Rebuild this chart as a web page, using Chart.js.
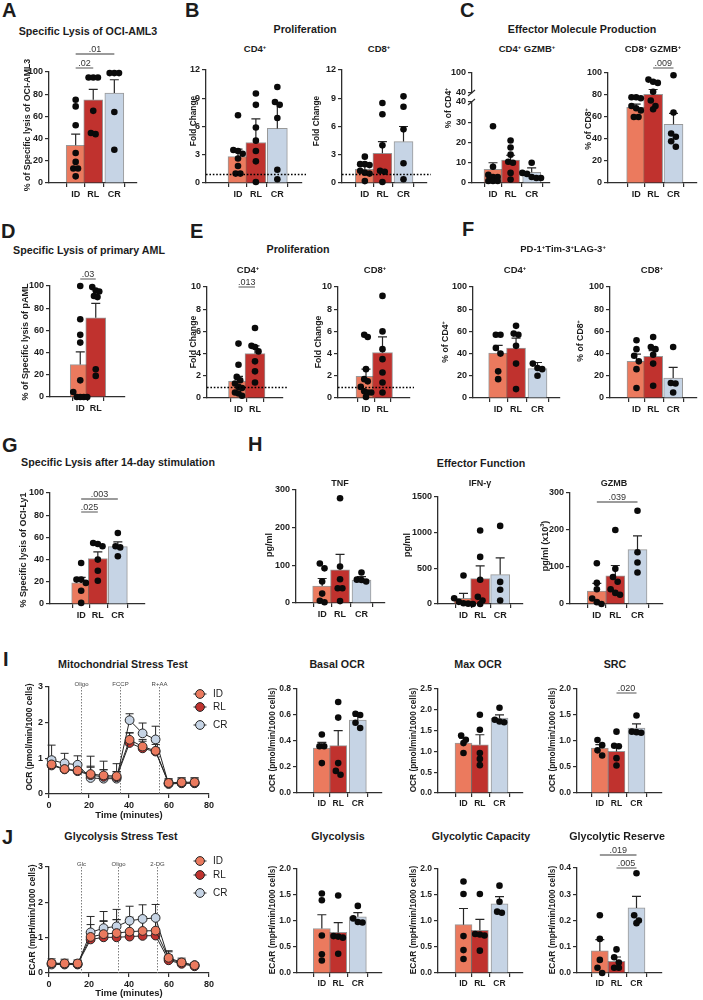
<!DOCTYPE html>
<html>
<head>
<meta charset="utf-8">
<title>T-cell function figure</title>
<script src="https://cdn.jsdelivr.net/npm/chart.js@4.4.1/dist/chart.umd.min.js"></script>
<style>
  html, body { margin: 0; padding: 0; background: #fff; }
  #page { position: relative; width: 703px; height: 1000px; overflow: hidden; background: #fff;
          font-family: 'Liberation Sans', Arial, Helvetica, sans-serif; color: #1c1c1c; }
  #page canvas { position: absolute; z-index: 1; }
  .txt { position: absolute; z-index: 2; white-space: nowrap; line-height: 1; font-weight: bold;
         transform: translate(-50%, -50%); }
  .letter { position: absolute; z-index: 2; line-height: 1; font-weight: bold; font-size: 20px; }
  sup { font-size: 0.62em; vertical-align: 0.55em; line-height: 0; }
</style>
</head>
<body>
<div id="page"></div>
<script>
// ====================== DATA ======================
const categories = ['ID', 'RL', 'CR'];

// A – specific lysis of OCI-AML3 (%)
const lysisAML3_mean = [34, 75, 81];
const lysisAML3_sem  = [10, 9.4, 12];
const lysisAML3_pts  = [[75, 69, 52, 27, 19, 13, 13, 6], [95, 95, 95, 65, 45, 44], [99, 99, 99, 64, 30]];
const lysisAML3_p    = ['.02', '.01'];

// B – proliferation (fold change)
const prolifCD4_mean = [2.8, 4.3, 5.8];
const prolifCD4_sem  = [0.8, 2.5, 2.6];
const prolifCD4_pts  = [[7.2, 3.5, 3.4, 3.1, 2.6, 1.8, 1.0, 1.0], [9.5, 8.3, 5.9, 4.5, 3.4, 2.3, 0.1], [10.2, 8.6, 8.3, 6.9, 1.4, 0.4]];
const prolifCD8_mean = [1.45, 3.15, 4.4];
const prolifCD8_sem  = [0.65, 1.25, 1.6];
const prolifCD8_pts  = [[2.8, 2.0, 2.0, 1.9, 1.3, 1.1, 1.0, 0.2], [8.5, 7.3, 4.0, 1.3, 1.2, 0.1], [9.2, 8.1, 5.7, 2.1, 0.4]];
const foldBaseline   = 1;

// C – effector molecule production (% GZMB+)
const gzmbCD4_mean  = [6.7, 11.3, 5.3];
const gzmbCD4_sem   = [3.3, 2.4, 2.2];
const gzmbCD4_pts   = [[28, 8, 4, 3, 3, 1, 1, 1], [21, 17.5, 14, 10.5, 10, 5, 1.7], [10, 5, 4.5, 3, 2.5, 2.5]];
const gzmbCD4_break = [40, 100];
const gzmbCD8_mean  = [68.7, 80.7, 53.3];
const gzmbCD8_sem   = [3, 4.3, 10];
const gzmbCD8_pts   = [[78, 78, 77, 70, 68, 66, 60, 60], [94, 92, 91, 83, 75, 70, 67], [98, 64, 45, 42, 38, 33]];
const gzmbCD8_p     = ['.009'];

// D – specific lysis of primary AML (%)
const lysisPAML_mean = [29.2, 71.4];
const lysisPAML_sem  = [11.5, 12.9];
const lysisPAML_pts  = [[100, 70, 56, 49, 15, 4.5, 0, 0, 0, 0], [99, 96, 95, 91, 90, 25, 19]];
const lysisPAML_p    = ['.03'];

// E – proliferation (fold change), ID vs RL
const prolif2CD4_mean = [1.5, 4.0];
const prolif2CD4_sem  = [0.45, 0.7];
const prolif2CD4_pts  = [[4.9, 3.0, 1.9, 1.6, 1.3, 1.0, 0.9, 0.5, 0.4, 0.2], [6.3, 4.7, 4.6, 4.2, 3.3, 2.4, 1.4]];
const prolif2CD4_p    = ['.013'];
const prolif2CD8_mean = [1.95, 4.1];
const prolif2CD8_sem  = [0.65, 1.4];
const prolif2CD8_pts  = [[5.7, 5.5, 2.6, 1.7, 1.5, 1.0, 0.6, 0.5, 0.5, 0.1], [9.2, 6.0, 4.4, 3.5, 2.3, 1.4, 0.5]];

// F – PD-1+Tim-3+LAG-3+ (%)
const ptlCD4_mean = [40.5, 45, 26.4];
const ptlCD4_sem  = [6.9, 9, 5.6];
const ptlCD4_pts  = [[57, 57, 45, 40, 24, 17], [65, 58, 57, 47, 31, 8], [31, 27, 26, 20]];
const ptlCD8_mean = [33, 37.5, 18];
const ptlCD8_sem  = [6.6, 5.1, 9.6];
const ptlCD8_pts  = [[52, 44, 38, 33, 26, 9], [55, 46, 44, 39, 31, 11], [46, 13.5, 13, 5]];

// G – specific lysis after 14-day stimulation (%)
const lysisLy1_mean = [19, 41, 51.7];
const lysisLy1_sem  = [4.9, 6, 4.3];
const lysisLy1_pts  = [[37, 22, 22, 19, 12, 1], [55, 54, 52, 40, 30, 21], [64, 52, 51, 43]];
const lysisLy1_p    = ['.025', '.003'];

// H – effector function (cytokines)
const tnf_mean = [45, 88, 61];
const tnf_sem  = [20, 41, 9];
const tnf_pts  = [[105, 92, 57, 25, 6, 2], [278, 97, 63, 39, 39, 5], [81, 62, 61, 57]];
const ifng_mean = [80, 356, 412];
const ifng_sem  = [70, 178, 234];
const ifng_pts  = [[400, 80, 30, 10, 5, 0], [1030, 660, 340, 100, 50, 0], [1095, 310, 200, 50]];
const gzmbSec_mean = [35, 76, 147];
const gzmbSec_sem  = [21, 28, 37];
const gzmbSec_pts  = [[110, 57, 40, 15, 5, 0], [200, 95, 73, 60, 40, 30, 25], [252, 140, 112, 85]];
const gzmbSec_p    = ['.039'];

// I – mitochondrial stress test
const ocrTime   = [1.3, 7.8, 14.3, 20.8, 27.3, 33.8, 40.3, 46.8, 53.3, 59.8, 66.3, 72.8];
const ocr_ID    = [0.83, 0.70, 0.66, 0.56, 0.52, 0.50, 1.52, 1.33, 1.21, 0.31, 0.33, 0.33];
const ocr_RL    = [0.80, 0.69, 0.64, 0.53, 0.48, 0.47, 1.43, 1.28, 1.19, 0.30, 0.31, 0.31];
const ocr_CR    = [0.95, 0.86, 0.82, 0.45, 0.43, 0.43, 2.07, 1.70, 1.53, 0.28, 0.30, 0.30];
const ocrErr_ID = [0.20, 0.15, 0.15, 0.50, 0.40, 0.35, 0.20, 0.20, 0.25, 0.10, 0.12, 0.12];
const ocrErr_RL = [0.10, 0.10, 0.10, 0.25, 0.20, 0.15, 0.28, 0.20, 0.20, 0.08, 0.10, 0.10];
const ocrErr_CR = [0.42, 0.28, 0.25, 0.30, 0.25, 0.20, 0.18, 0.29, 0.37, 0.15, 0.15, 0.15];
const ocrInjTimes  = [16, 35.5, 55];
const ocrInjLabels = ['Oligo', 'FCCP', 'R+AA'];
const basal_mean = [0.346, 0.364, 0.56];
const basal_sem  = [0.044, 0.116, 0.03];
const basal_pts  = [[0.45, 0.36, 0.36, 0.23], [0.70, 0.58, 0.23, 0.17, 0.14], [0.61, 0.60, 0.54, 0.50]];
const maxOcr_mean = [1.2, 1.16, 1.80];
const maxOcr_sem  = [0.12, 0.24, 0.08];
const maxOcr_pts  = [[1.38, 1.28, 1.2, 0.96], [1.88, 1.52, 0.96, 0.82, 0.67], [2.05, 1.76, 1.72, 1.70]];
const src_mean = [0.865, 0.80, 1.25];
const src_sem  = [0.065, 0.12, 0.08];
const src_pts  = [[1.02, 0.92, 0.82, 0.72], [1.18, 0.91, 0.90, 0.67, 0.53], [1.49, 1.18, 1.17, 1.16]];
const src_p    = ['.020'];

// J – glycolysis stress test
const ecarTime   = [1.3, 7.8, 14.3, 20.8, 27.3, 33.8, 40.3, 46.8, 53.3, 59.8, 66.3, 72.8];
const ecar_ID    = [0.28, 0.27, 0.27, 1.02, 1.10, 1.13, 1.17, 1.19, 1.20, 0.43, 0.30, 0.22];
const ecar_RL    = [0.27, 0.26, 0.25, 0.95, 1.01, 1.01, 1.03, 1.05, 1.06, 0.36, 0.26, 0.19];
const ecar_CR    = [0.24, 0.24, 0.24, 1.15, 1.27, 1.32, 1.48, 1.53, 1.56, 0.40, 0.28, 0.22];
const ecarErr_ID = [0.12, 0.12, 0.10, 0.35, 0.38, 0.38, 0.30, 0.30, 0.33, 0.20, 0.12, 0.06];
const ecarErr_RL = [0.05, 0.05, 0.05, 0.20, 0.45, 0.50, 0.55, 0.55, 0.55, 0.15, 0.10, 0.06];
const ecarErr_CR = [0.10, 0.10, 0.10, 0.45, 0.47, 0.48, 0.41, 0.40, 0.38, 0.20, 0.10, 0.07];
const ecarInjTimes  = [16, 34.5, 54];
const ecarInjLabels = ['Glc', 'Oligo', '2-DG'];
const glyco_mean = [0.855, 0.78, 1.08];
const glyco_sem  = [0.265, 0.19, 0.08];
const glyco_pts  = [[1.53, 1.40, 0.72, 0.36, 0.24], [1.49, 0.71, 0.70, 0.68, 0.37], [1.29, 1.05, 0.98, 0.97]];
const glycoCap_mean = [0.93, 0.82, 1.33];
const glycoCap_sem  = [0.31, 0.21, 0.14];
const glycoCap_pts  = [[1.76, 1.52, 0.71, 0.44, 0.27], [1.52, 0.75, 0.74, 0.72, 0.43], [1.68, 1.37, 1.18, 1.16]];
const glycoRes_mean = [0.084, 0.044, 0.248];
const glycoRes_sem  = [0.043, 0.017, 0.044];
const glycoRes_pts  = [[0.22, 0.13, 0.05, 0.02, 0.0], [0.09, 0.06, 0.04, 0.02, 0.02], [0.38, 0.22, 0.20, 0.19]];
const glycoRes_p    = ['.019', '.005'];

// ====================== STYLE / HELPERS ======================
const FONT = "'Liberation Sans', Arial, Helvetica, sans-serif";
const AXIS = '#2e2e2e';
const COLORS = ['#EB7A5E', '#C0322E', '#C6D4E5'];
const BAR_BORDER = 'rgba(70,70,70,0.55)';
const GX = [0, 1, 2.2];           // group slots on the x axis (GraphPad-style spacing)
const DOT_R = 3.3;
const page = document.getElementById('page');

Chart.defaults.font.family = FONT;
Chart.defaults.font.weight = 'bold';
Chart.defaults.color = '#1c1c1c';

function addText(html, x, y, size, o) {
  o = o || {};
  const d = document.createElement('div');
  d.className = 'txt';
  d.innerHTML = html;
  d.style.left = x + 'px'; d.style.top = y + 'px'; d.style.fontSize = size + 'px';
  if (o.rot) d.style.transform = 'translate(-50%,-50%) rotate(-90deg)';
  if (o.weight) d.style.fontWeight = o.weight;
  page.appendChild(d);
}
function addLetter(ch, x, y) {
  const d = document.createElement('div');
  d.className = 'letter';
  d.textContent = ch;
  d.style.left = x + 'px'; d.style.top = y + 'px';
  page.appendChild(d);
}
function makeCanvas(L, T, R, B, pad) {
  const c = document.createElement('canvas');
  const left = L - pad.l, top = T - pad.t;
  const w = Math.round(R - L + pad.l + pad.r), h = Math.round(B - T + pad.t + pad.b);
  c.width = w; c.height = h;
  c.style.left = left + 'px'; c.style.top = top + 'px';
  c.style.width = w + 'px'; c.style.height = h + 'px';
  page.appendChild(c);
  return {el: c, left, top};
}
// horizontal spreading of overlapping dots (like GraphPad scatter)
function swarm(vals, thr, step) {
  const sorted = vals.slice().sort((a, b) => b - a);
  const rows = [];
  for (const v of sorted) {
    const r = rows[rows.length - 1];
    if (r && Math.abs(r[0] - v) < thr) r.push(v); else rows.push([v]);
  }
  const out = [];
  rows.forEach(r => r.forEach((v, i) => out.push({v, dx: (i - (r.length - 1) / 2) * step})));
  return out;
}
function gridOpts() {
  return {display: true, drawOnChartArea: false, drawTicks: true, tickLength: 4, tickWidth: 1.2,
          tickColor: AXIS, color: AXIS, lineWidth: 1.2};
}
function borderOpts() { return {display: true, color: AXIS, width: 1.3}; }
function tickOpts(size, extra) {
  return Object.assign({font: {size, weight: 'bold', family: FONT}, color: '#1c1c1c', padding: 2,
                        autoSkip: false, maxRotation: 0, minRotation: 0}, extra || {});
}

function barPanel(s) {
  const n = s.mean.length;
  const gx = GX.slice(0, n);
  const cats = categories.slice(0, n);
  const unit = (s.c1 - s.c0) / (gx[n - 1] - gx[0]);
  const xmin = gx[0] - (s.c0 - s.L) / unit;
  const xmax = gx[n - 1] + (s.R - s.c1) / unit;
  const sig = s.sig || [];
  const pad = {l: 32, r: 8, b: 20,
               t: sig.length ? Math.max(10, s.T - Math.min(...sig.map(q => q.y)) + 16) : 10};
  const cv = makeCanvas(s.L, s.T, s.R, s.B, pad);
  const dec = s.dec || 0;
  const tsz = s.tickSize || 9;
  const fmt = v => Number(v).toFixed(dec);
  let thr;
  const scales = {
    x: {type: 'linear', min: xmin, max: xmax, grid: gridOpts(), border: borderOpts(),
        ticks: tickOpts(tsz, {callback: (v, i) => cats[i]}),
        afterBuildTicks: sc => { sc.ticks = gx.map(v => ({value: v})); },
        afterFit: sc => { sc.height = pad.b; }}
  };
  if (s.broken) {
    const lo = s.broken[0], hi = s.broken[1];
    const w = s.stackW;
    scales.y = {type: 'linear', position: 'left', stack: 'brk', stackWeight: w[0], min: 0, max: lo,
      grid: gridOpts(), border: borderOpts(), ticks: tickOpts(tsz, {stepSize: s.yStep, callback: fmt}),
      afterFit: sc => { sc.width = pad.l; }};
    scales.yGap = {type: 'linear', position: 'left', stack: 'brk', stackWeight: w[1], min: 0, max: 1,
      grid: {display: false}, border: {display: false}, ticks: {display: false},
      afterFit: sc => { sc.width = pad.l; }};
    scales.yTop = {type: 'linear', position: 'left', stack: 'brk', stackWeight: w[2], min: lo, max: hi,
      grid: gridOpts(), border: borderOpts(), ticks: tickOpts(tsz, {stepSize: hi - lo, callback: fmt}),
      afterFit: sc => { sc.width = pad.l; }};
    thr = lo * 5.8 / ((s.B - s.T) * w[0] / (w[0] + w[1] + w[2]));
  } else {
    scales.y = {type: 'linear', position: 'left', min: 0, max: s.yMax,
      grid: gridOpts(), border: borderOpts(), ticks: tickOpts(tsz, {stepSize: s.yStep, callback: fmt}),
      afterFit: sc => { sc.width = pad.l; }};
    thr = s.yMax * 5.8 / (s.B - s.T);
  }
  const step = 7 / unit;
  const pts = [];
  s.pts.forEach((arr, g) => swarm(arr, thr, step).forEach(p => pts.push({x: gx[g] + p.dx, y: p.v})));

  const plugin = {
    id: 'barExtras',
    afterDatasetDraw(chart, args) {
      if (args.meta.type !== 'bar') return;
      const ctx = chart.ctx, ys = chart.scales.y;
      ctx.save();
      ctx.strokeStyle = '#262626'; ctx.lineWidth = 1.2;
      args.meta.data.forEach((bar, i) => {
        const yTop = ys.getPixelForValue(s.mean[i] + s.sem[i]);
        ctx.beginPath();
        ctx.moveTo(bar.x, bar.y); ctx.lineTo(bar.x, yTop);
        ctx.moveTo(bar.x - 4.5, yTop); ctx.lineTo(bar.x + 4.5, yTop);
        ctx.stroke();
      });
      ctx.restore();
    },
    afterDatasetsDraw(chart) {
      const ctx = chart.ctx, xs = chart.scales.x, ys = chart.scales.y, ca = chart.chartArea;
      ctx.save();
      if (s.ref != null) {
        const y = Math.round(ys.getPixelForValue(s.ref)) + 0.5;
        ctx.setLineDash([1.6, 1.8]); ctx.strokeStyle = '#000'; ctx.lineWidth = 1.4;
        ctx.beginPath(); ctx.moveTo(ca.left, y); ctx.lineTo(ca.right + 4, y); ctx.stroke();
        ctx.setLineDash([]);
      }
      sig.forEach(q => {
        const y = q.y - cv.top;
        const xa = xs.getPixelForValue(gx[q.a]), xb = xs.getPixelForValue(gx[q.b]);
        ctx.strokeStyle = '#7a7a7a'; ctx.lineWidth = 1.3;
        ctx.beginPath(); ctx.moveTo(xa, y); ctx.lineTo(xb, y); ctx.stroke();
        ctx.fillStyle = '#333'; ctx.font = 'normal 9px ' + FONT;
        ctx.textAlign = 'center'; ctx.textBaseline = 'alphabetic';
        ctx.fillText(q.p, (xa + xb) / 2, y - 2.5);
      });
      if (s.broken) {
        const x = ca.left;
        [chart.scales.y.getPixelForValue(s.broken[0]), chart.scales.yTop.getPixelForValue(s.broken[0])].forEach(y => {
          ctx.strokeStyle = AXIS; ctx.lineWidth = 1.2;
          ctx.beginPath(); ctx.moveTo(x - 4, y + 3); ctx.lineTo(x + 3, y - 3); ctx.stroke();
        });
      }
      ctx.restore();
    }
  };

  new Chart(cv.el, {
    type: 'bar',
    data: {datasets: [
      {type: 'scatter', data: pts, pointRadius: DOT_R, pointBackgroundColor: '#0a0a0a', pointBorderWidth: 0,
       borderWidth: 0, clip: false, order: 1, yAxisID: 'y'},
      {type: 'bar', data: s.mean.map((m, i) => ({x: gx[i], y: m})), backgroundColor: COLORS.slice(0, n),
       borderColor: BAR_BORDER, borderWidth: 1, barThickness: s.barW || 19, order: 2, yAxisID: 'y'}
    ]},
    options: {
      responsive: false, animation: false, devicePixelRatio: 1, events: [],
      layout: {padding: {top: pad.t, right: pad.r, left: 0, bottom: 0}},
      plugins: {legend: {display: false}, tooltip: {enabled: false}},
      scales
    },
    plugins: [plugin]
  });
}

function linePanel(s) {
  const pad = {l: 30, t: 12, r: 36, b: s.padB};
  const cv = makeCanvas(s.L, s.T, s.R, s.B, pad);
  const datasets = s.series.map((vals, g) => ({
    type: 'line', label: categories[g],
    data: s.time.map((t, i) => ({x: t, y: vals[i]})),
    borderColor: '#262626', borderWidth: 1, tension: 0, fill: false, clip: false,
    pointRadius: 4.4, pointBackgroundColor: COLORS[g], pointBorderColor: '#262626', pointBorderWidth: 1
  }));
  const plugin = {
    id: 'lineExtras',
    beforeDatasetsDraw(chart) {
      const ctx = chart.ctx, xs = chart.scales.x, ys = chart.scales.y, ca = chart.chartArea;
      ctx.save();
      s.inj.forEach((t, k) => {
        const x = Math.round(xs.getPixelForValue(t)) + 0.5;
        ctx.setLineDash([1.5, 1.5]); ctx.strokeStyle = '#7d7d7d'; ctx.lineWidth = 1;
        ctx.beginPath(); ctx.moveTo(x, ca.top); ctx.lineTo(x, ca.bottom); ctx.stroke();
        ctx.setLineDash([]);
        ctx.fillStyle = '#444'; ctx.font = 'normal 6px ' + FONT;
        ctx.textAlign = 'center'; ctx.textBaseline = 'alphabetic';
        ctx.fillText(s.injLabels[k], x, ca.top - 1);
      });
      ctx.strokeStyle = '#262626'; ctx.lineWidth = 1;
      s.series.forEach((vals, g) => vals.forEach((v, i) => {
        const x = xs.getPixelForValue(s.time[i]);
        const y0 = ys.getPixelForValue(v), y1 = ys.getPixelForValue(v + s.err[g][i]);
        ctx.beginPath(); ctx.moveTo(x, y0); ctx.lineTo(x, y1);
        ctx.moveTo(x - 4, y1); ctx.lineTo(x + 4, y1); ctx.stroke();
      }));
      ctx.restore();
    },
    afterDraw(chart) {
      const ctx = chart.ctx;
      ctx.save();
      s.legendY.forEach((ly, g) => {
        const x = s.legendX - cv.left, y = ly - cv.top;
        ctx.strokeStyle = '#262626'; ctx.lineWidth = 1;
        ctx.beginPath(); ctx.moveTo(x - 6.5, y); ctx.lineTo(x + 6.5, y); ctx.stroke();
        ctx.beginPath(); ctx.arc(x, y, 4.4, 0, Math.PI * 2);
        ctx.fillStyle = COLORS[g]; ctx.fill(); ctx.stroke();
        ctx.fillStyle = '#1c1c1c'; ctx.font = 'normal 10px ' + FONT;
        ctx.textAlign = 'left'; ctx.textBaseline = 'middle';
        ctx.fillText(categories[g], x + 13, y + 0.5);
      });
      ctx.restore();
    }
  };
  new Chart(cv.el, {
    type: 'line',
    data: {datasets},
    options: {
      responsive: false, animation: false, devicePixelRatio: 1, events: [],
      layout: {padding: {top: pad.t, right: pad.r, left: 0, bottom: 0}},
      plugins: {legend: {display: false}, tooltip: {enabled: false}},
      scales: {
        x: {type: 'linear', min: 0, max: 80, grid: gridOpts(), border: borderOpts(),
            ticks: tickOpts(9, {stepSize: 20}),
            title: {display: true, text: 'Time (minutes)', color: '#1c1c1c', padding: 0,
                    font: {size: 9.5, weight: 'bold', family: FONT}},
            afterFit: sc => { sc.height = pad.b; }},
        y: {type: 'linear', min: 0, max: 3, grid: gridOpts(), border: borderOpts(),
            ticks: tickOpts(9, {stepSize: 1}),
            afterFit: sc => { sc.width = pad.l; }}
      }
    },
    plugins: [plugin]
  });
}

// ====================== PANELS ======================
// Row 1
barPanel({L: 49, T: 72, R: 137, B: 183, c0: 67, c1: 125, mean: lysisAML3_mean, sem: lysisAML3_sem, pts: lysisAML3_pts,
  yMax: 100, yStep: 20, sig: [{a: 0, b: 1, y: 68, p: lysisAML3_p[0]}, {a: 0, b: 2, y: 54, p: lysisAML3_p[1]}]});
barPanel({L: 206, T: 70, R: 302, B: 183, c0: 230, c1: 289, mean: prolifCD4_mean, sem: prolifCD4_sem, pts: prolifCD4_pts,
  yMax: 12, yStep: 3, ref: foldBaseline, barW: 20});
barPanel({L: 342, T: 70, R: 427, B: 183, c0: 355, c1: 413, mean: prolifCD8_mean, sem: prolifCD8_sem, pts: prolifCD8_pts,
  yMax: 12, yStep: 3, ref: foldBaseline});
barPanel({L: 472, T: 73, R: 550, B: 183, c0: 484, c1: 542, mean: gzmbCD4_mean, sem: gzmbCD4_sem, pts: gzmbCD4_pts,
  broken: gzmbCD4_break, stackW: [81, 9, 20], yStep: 10, barW: 18});
barPanel({L: 608, T: 73, R: 697, B: 183, c0: 628, c1: 684, mean: gzmbCD8_mean, sem: gzmbCD8_sem, pts: gzmbCD8_pts,
  yMax: 100, yStep: 20, sig: [{a: 1, b: 2, y: 68, p: gzmbCD8_p[0]}]});
// Row 2
barPanel({L: 50, T: 286, R: 125, B: 397, c0: 73, c1: 104, mean: lysisPAML_mean, sem: lysisPAML_sem, pts: lysisPAML_pts,
  yMax: 100, yStep: 20, barW: 20, sig: [{a: 0, b: 1, y: 279, p: lysisPAML_p[0]}]});
barPanel({L: 207, T: 287, R: 283, B: 398, c0: 232, c1: 265, mean: prolif2CD4_mean, sem: prolif2CD4_sem, pts: prolif2CD4_pts,
  yMax: 10, yStep: 2, ref: foldBaseline, barW: 20, sig: [{a: 0, b: 1, y: 287, p: prolif2CD4_p[0]}]});
barPanel({L: 338, T: 287, R: 410, B: 398, c0: 358, c1: 391, mean: prolif2CD8_mean, sem: prolif2CD8_sem, pts: prolif2CD8_pts,
  yMax: 10, yStep: 2, ref: foldBaseline, barW: 20});
barPanel({L: 473, T: 287, R: 560, B: 398, c0: 489, c1: 548, mean: ptlCD4_mean, sem: ptlCD4_sem, pts: ptlCD4_pts,
  yMax: 100, yStep: 20});
barPanel({L: 610, T: 287, R: 697, B: 398, c0: 628, c1: 683, mean: ptlCD8_mean, sem: ptlCD8_sem, pts: ptlCD8_pts,
  yMax: 100, yStep: 20});
// Row 3
barPanel({L: 50, T: 493, R: 145, B: 604, c0: 73, c1: 128, mean: lysisLy1_mean, sem: lysisLy1_sem, pts: lysisLy1_pts,
  yMax: 100, yStep: 20, sig: [{a: 0, b: 1, y: 512, p: lysisLy1_p[0]}, {a: 0, b: 2, y: 499, p: lysisLy1_p[1]}]});
barPanel({L: 296, T: 490, R: 385, B: 603, c0: 313, c1: 372, mean: tnf_mean, sem: tnf_sem, pts: tnf_pts,
  yMax: 300, yStep: 100});
barPanel({L: 438, T: 497, R: 523, B: 604, c0: 455, c1: 510, mean: ifng_mean, sem: ifng_sem, pts: ifng_pts,
  yMax: 1500, yStep: 500});
barPanel({L: 570, T: 493, R: 663, B: 604, c0: 587, c1: 648, mean: gzmbSec_mean, sem: gzmbSec_sem, pts: gzmbSec_pts,
  yMax: 300, yStep: 100, sig: [{a: 0, b: 2, y: 502, p: gzmbSec_p[0]}]});
// Row 4
linePanel({L: 49, T: 687, R: 209, B: 794, padB: 27, time: ocrTime, series: [ocr_ID, ocr_RL, ocr_CR],
  err: [ocrErr_ID, ocrErr_RL, ocrErr_CR], inj: ocrInjTimes, injLabels: ocrInjLabels,
  legendX: 200, legendY: [694, 707, 725]});
barPanel({L: 297, T: 689, R: 382, B: 793, c0: 313, c1: 367, mean: basal_mean, sem: basal_sem, pts: basal_pts,
  yMax: 0.8, yStep: 0.2, dec: 1, tickSize: 8.5, barW: 17});
barPanel({L: 438, T: 689, R: 523, B: 793, c0: 455, c1: 509, mean: maxOcr_mean, sem: maxOcr_sem, pts: maxOcr_pts,
  yMax: 2.5, yStep: 0.5, dec: 1, tickSize: 8.5, barW: 17});
barPanel({L: 577, T: 689, R: 662, B: 793, c0: 590, c1: 645, mean: src_mean, sem: src_sem, pts: src_pts,
  yMax: 2, yStep: 0.5, dec: 1, tickSize: 8.5, barW: 17, sig: [{a: 1, b: 2, y: 693, p: src_p[0]}]});
// Row 5
linePanel({L: 49, T: 867, R: 209, B: 973, padB: 26, time: ecarTime, series: [ecar_ID, ecar_RL, ecar_CR],
  err: [ecarErr_ID, ecarErr_RL, ecarErr_CR], inj: ecarInjTimes, injLabels: ecarInjLabels,
  legendX: 200, legendY: [861, 875, 893]});
barPanel({L: 297, T: 869, R: 382, B: 973, c0: 313, c1: 367, mean: glyco_mean, sem: glyco_sem, pts: glyco_pts,
  yMax: 2, yStep: 0.5, dec: 1, tickSize: 8.5, barW: 17});
barPanel({L: 438, T: 869, R: 523, B: 973, c0: 455, c1: 509, mean: glycoCap_mean, sem: glycoCap_sem, pts: glycoCap_pts,
  yMax: 2, yStep: 0.5, dec: 1, tickSize: 8.5, barW: 17});
barPanel({L: 577, T: 868, R: 662, B: 973, c0: 590, c1: 645, mean: glycoRes_mean, sem: glycoRes_sem, pts: glycoRes_pts,
  yMax: 0.4, yStep: 0.1, dec: 1, tickSize: 8.5, barW: 17,
  sig: [{a: 0, b: 2, y: 855, p: glycoRes_p[0]}, {a: 1, b: 2, y: 868, p: glycoRes_p[1]}]});

// ====================== TEXT ======================
[['A', 2, 0], ['B', 185, 0], ['C', 460, 0], ['D', 1, 221], ['E', 190, 221], ['F', 462, 219],
 ['G', 2, 435], ['H', 248, 434], ['I', 3, 649], ['J', 2, 827]].forEach(l => addLetter(l[0], l[1], l[2]));

const T1 = 10.7, T2 = 9.5;
addText('Specific Lysis of OCI-AML3', 88, 31, T1);
addText('Proliferation', 305, 29, T1);
addText('CD4<sup>+</sup>', 255, 49, T2);
addText('CD8<sup>+</sup>', 379, 49, T2);
addText('Effector Molecule Production', 582, 29, T1);
addText('CD4<sup>+</sup> GZMB<sup>+</sup>', 527, 49, T2);
addText('CD8<sup>+</sup> GZMB<sup>+</sup>', 653, 49, T2);
addText('Specific Lysis of primary AML', 89, 250, T1);
addText('Proliferation', 298, 249, T1);
addText('CD4<sup>+</sup>', 248, 270, T2);
addText('CD8<sup>+</sup>', 375, 270, T2);
addText('PD-1<sup>+</sup>Tim-3<sup>+</sup>LAG-3<sup>+</sup>', 563, 249, T2);
addText('CD4<sup>+</sup>', 515, 270, T2);
addText('CD8<sup>+</sup>', 652, 270, T2);
addText('Specific Lysis after 14-day stimulation', 118, 462, T1);
addText('Effector Function', 481, 463, T1);
addText('TNF', 340, 483, 9);
addText('IFN-γ', 480, 483, 9);
addText('GZMB', 614, 483, 9);
addText('Mitochondrial Stress Test', 123, 664, T1);
addText('Basal OCR', 337, 664, T1);
addText('Max OCR', 478, 664, T1);
addText('SRC', 615, 664, T1);
addText('Glycolysis Stress Test', 121, 836, T1);
addText('Glycolysis', 338, 836, T1);
addText('Glycolytic Capacity', 481, 836, T1);
addText('Glycolytic Reserve', 617, 836, T1);

// y-axis titles
const R = {rot: true};
addText('% of Specific lysis of OCI-AML3', 27, 125, 8.8, R);
addText('Fold Change', 193, 121, 8.3, R);
addText('Fold Change', 316, 121, 8.3, R);
addText('% of CD4<sup>+</sup>', 448, 108, 8.5, R);
addText('% of CD8<sup>+</sup>', 588, 129, 8.7, R);
addText('% of Specific lysis of pAML', 25, 342, 9, R);
addText('Fold Change', 193, 342, 8.7, R);
addText('Fold Change', 318, 342, 8.7, R);
addText('% of CD4<sup>+</sup>', 445, 342, 8.7, R);
addText('% of CD8<sup>+</sup>', 580, 341, 8.7, R);
addText('% Specific lysis of OCI-Ly1', 23, 550, 9, R);
addText('pg/ml', 269, 545, 9, R);
addText('pg/ml', 407, 545, 9, R);
addText('pg/ml (x10<sup>3</sup>)', 545, 546, 9, R);
addText('OCR (pmol/min/1000 cells)', 29, 737, 8.5, R);
addText('OCR (pmol/min/1000 cells)', 272, 740, 8.3, R);
addText('OCR (pmol/min/1000 cells)', 413, 740, 8.3, R);
addText('OCR (pmol/min/1000 cells)', 552, 740, 8.3, R);
addText('ECAR (mpH/min/1000 cells)', 32, 920, 8.5, R);
addText('ECAR (mpH/min/1000 cells)', 272, 920, 8.3, R);
addText('ECAR (mpH/min/1000 cells)', 413, 920, 8.3, R);
addText('ECAR (mpH/min/1000 cells)', 552, 920, 8.3, R);
</script>
</body>
</html>
